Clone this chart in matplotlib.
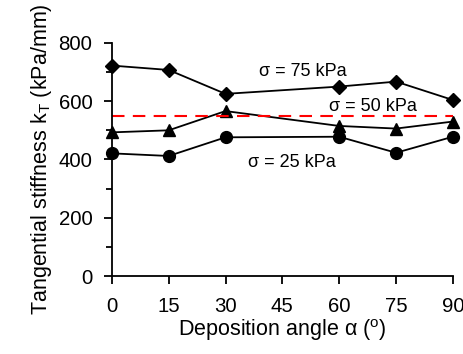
import matplotlib
matplotlib.use("Agg")
import matplotlib.pyplot as plt
from matplotlib.ticker import MultipleLocator

plt.rcParams["font.family"] = ["Liberation Sans", "DejaVu Sans"]
plt.rcParams["mathtext.fontset"] = "custom"
plt.rcParams["mathtext.rm"] = "Liberation Sans"

# deposition angles (deg) and tangential stiffness (kPa/mm)
angles = [0, 15, 30, 60, 75, 90]
k_75 = [722, 707, 625, 650, 667, 604]
k_50 = [493, 500, 566, 515, 506, 530]
k_25 = [421, 412, 476, 478, 423, 478]
k_ref = 549

fig = plt.figure(figsize=(4.64, 3.54), dpi=100)
ax = fig.add_axes([0.241, 0.220, 0.735, 0.659])

ax.plot(angles, k_75, color="black", lw=1.3, marker="D", ms=7.5)
ax.plot(angles, k_50, color="black", lw=1.3, marker="^", ms=8.5)
ax.plot(angles, k_25, color="black", lw=1.3, marker="o", ms=8.5)
ax.plot([0, 90], [k_ref, k_ref], color="red", lw=1.5, ls=(0, (6, 4)))

ax.text(50.4, 700, "σ = 75 kPa", fontsize=13, ha="center", va="center")
ax.text(68.9, 582, "σ = 50 kPa", fontsize=13, ha="center", va="center")
ax.text(47.5, 388, "σ = 25 kPa", fontsize=13, ha="center", va="center")

ax.set_xlim(0, 90)
ax.set_ylim(0, 800)
ax.xaxis.set_major_locator(MultipleLocator(15))
ax.yaxis.set_major_locator(MultipleLocator(200))
ax.yaxis.set_minor_locator(MultipleLocator(100))

for side in ("top", "right"):
    ax.spines[side].set_visible(False)
for side in ("left", "bottom"):
    ax.spines[side].set_linewidth(1.3)
ax.tick_params(which="both", direction="out", width=1.3, labelsize=14.7)
ax.tick_params(which="major", length=6)
ax.tick_params(which="minor", length=4)
ax.tick_params(axis="x", pad=9)
ax.tick_params(axis="y", pad=8)

ax.set_xlabel("Deposition angle α ($\\mathregular{^o}$)", fontsize=15.5, labelpad=1)
ax.set_ylabel("Tangential stiffness k$_\\mathregular{T}$ (kPa/mm)", fontsize=15.5, labelpad=3)
for line in ax.lines:
    line.set_clip_on(False)

fig.savefig("out.png", dpi=100)
